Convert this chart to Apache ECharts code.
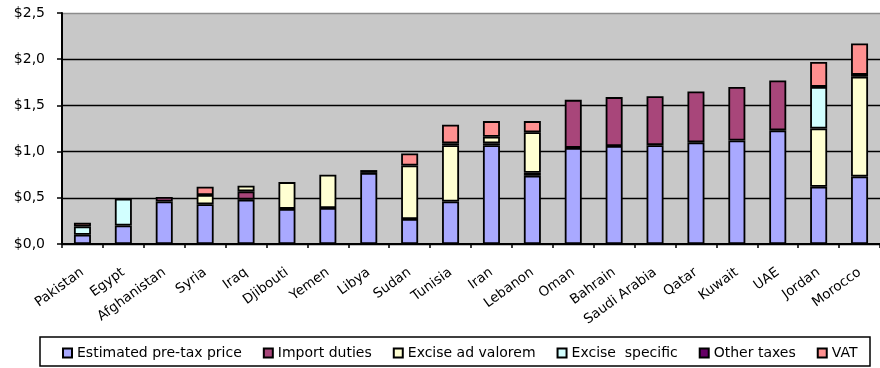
<!DOCTYPE html>
<html>
<head>
<meta charset="utf-8">
<title>Fuel price structure by country</title>
<script src="https://cdn.jsdelivr.net/npm/echarts@6/dist/echarts.min.js"></script>
<style>
  html, body { margin: 0; padding: 0; background: #fff; }
  #chart { width: 880px; height: 368px; }
</style>
</head>
<body>
<div id="chart"></div>
<script>
// Countries along the x axis
const countries = ['Pakistan', 'Egypt', 'Afghanistan', 'Syria', 'Iraq', 'Djibouti', 'Yemen', 'Libya',
  'Sudan', 'Tunisia', 'Iran', 'Lebanon', 'Oman', 'Bahrain', 'Saudi Arabia', 'Qatar', 'Kuwait',
  'UAE', 'Jordan', 'Morocco'];

// Price components, US$ per litre (null = component not present)
const preTaxPrice = [0.10, 0.20, 0.46, 0.43, 0.48, 0.38, 0.39, 0.77, 0.27, 0.46,
  1.07, 0.74, 1.04, 1.06, 1.07, 1.10, 1.12, 1.23, 0.62, 0.73];
const importDuties = [null, null, 0.05, null, 0.09, null, null, null, null, null,
  0.02, 0.03, 0.52, 0.53, 0.53, 0.55, 0.58, 0.54, null, null];
const exciseAdValorem = [null, null, null, 0.10, 0.06, 0.29, 0.36, null, 0.58, 0.61,
  0.07, 0.44, null, null, null, null, null, null, 0.63, 1.08];
const exciseSpecific = [0.09, 0.29, null, null, null, null, null, null, null, 0.02,
  null, null, null, null, null, null, null, null, 0.45, null];
const otherTaxes = [null, null, null, null, null, null, null, 0.03, null, null,
  null, null, null, null, null, null, null, null, null, 0.02];
const vat = [0.04, null, null, 0.09, null, null, null, null, 0.13, 0.20,
  0.17, 0.12, null, null, null, null, null, null, 0.27, 0.34];

// Y axis ticks
const yTicks = [0, 0.5, 1.0, 1.5, 2.0, 2.5];

const seriesDefs = [
  { name: 'Estimated pre-tax price', data: preTaxPrice, color: '#A9A9FF' },
  { name: 'Import duties', data: importDuties, color: '#A8467A' },
  { name: 'Excise ad valorem', data: exciseAdValorem, color: '#FFFFD2' },
  { name: 'Excise  specific', data: exciseSpecific, color: '#D2FFFF' },
  { name: 'Other taxes', data: otherTaxes, color: '#660066' },
  { name: 'VAT', data: vat, color: '#FF9090' }
];

const font = 'DejaVu Sans';
const chart = echarts.init(document.getElementById('chart'), null, { renderer: 'canvas' });

chart.setOption({
  animation: false,
  backgroundColor: '#ffffff',
  textStyle: { fontFamily: font },
  grid: {
    left: 62, right: -6, top: 13, bottom: 124,
    show: true, backgroundColor: '#C8C8C8', borderWidth: 0
  },
  graphic: [{
    type: 'rect',
    shape: { x: 40, y: 337, width: 830, height: 29 },
    style: { fill: '#ffffff', stroke: '#000000', lineWidth: 1.5 },
    z: -1
  }],
  legend: {
    left: 62, top: 346,
    padding: 0,
    itemGap: 21,
    itemWidth: 9, itemHeight: 9,
    icon: 'rect',
    textStyle: { fontFamily: font, fontSize: 14, color: '#000' },
    data: seriesDefs.map(s => s.name)
  },
  xAxis: {
    type: 'category',
    data: countries,
    axisLine: { lineStyle: { color: '#000', width: 2 } },
    axisTick: { show: true, alignWithLabel: false, length: 4, lineStyle: { color: '#000', width: 1.5 } },
    axisLabel: {
      interval: 0, rotate: 36, margin: 27,
      fontFamily: font, fontSize: 13.5, color: '#000'
    }
  },
  yAxis: {
    type: 'value',
    min: yTicks[0], max: yTicks[yTicks.length - 1], interval: 0.5,
    axisLine: { show: true, lineStyle: { color: '#000', width: 2 } },
    axisTick: { show: true, length: 5, lineStyle: { color: '#000', width: 1.5 } },
    axisLabel: {
      margin: 17, fontFamily: font, fontSize: 14, color: '#000',
      formatter: v => '$' + v.toFixed(1).replace('.', ',')
    },
    splitLine: {
      show: true,
      lineStyle: { color: ['#000', '#000', '#000', '#000', '#000', '#8c8c8c'], width: 1.3 }
    }
  },
  series: seriesDefs.map(s => ({
    name: s.name,
    type: 'bar',
    stack: 'price',
    barWidth: 17,
    data: s.data,
    itemStyle: { color: s.color, borderColor: '#000', borderWidth: 1.8 }
  }))
});
</script>
</body>
</html>
